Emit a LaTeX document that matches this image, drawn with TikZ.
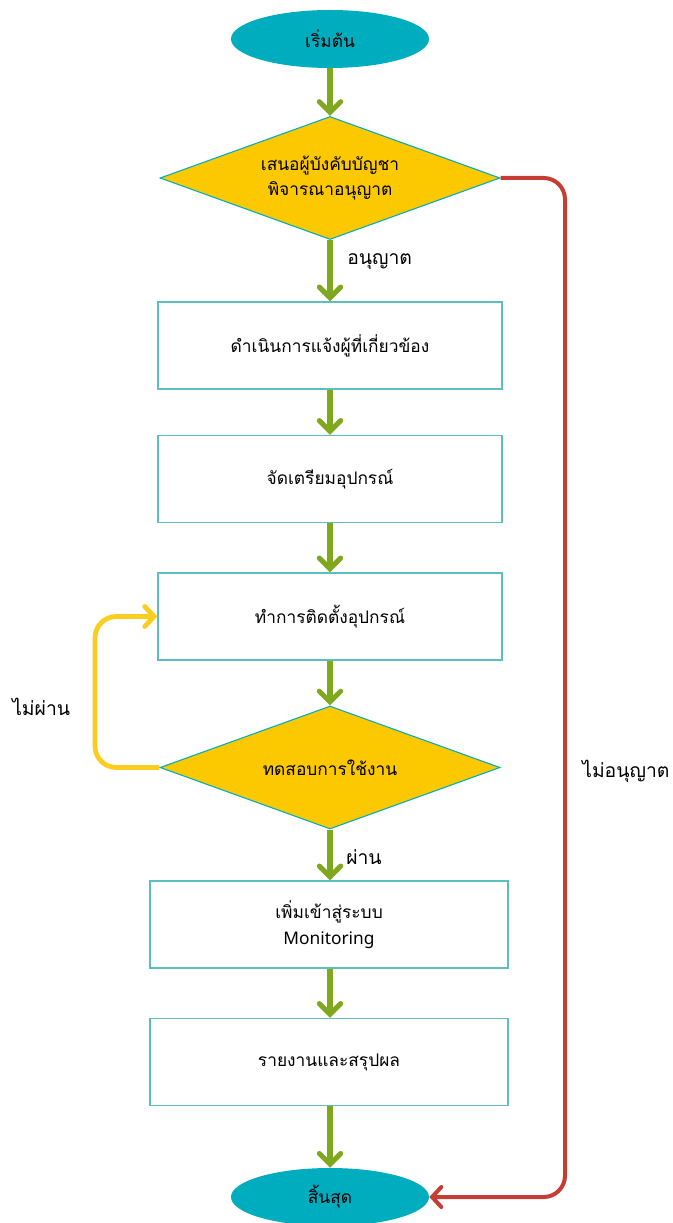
\documentclass[tikz,border=0pt]{standalone}
\usepackage{fontspec}
\setmainfont{Noto Sans}
\newfontfamily\thai[Script=Thai]{Loma}
\usetikzlibrary{shapes.geometric,arrows.meta}
\definecolor{termfill}{RGB}{0,173,190}
\definecolor{decfill}{RGB}{252,200,0}
\definecolor{boxline}{RGB}{92,190,192}
\definecolor{grn}{RGB}{128,168,30}
\definecolor{redl}{RGB}{196,62,52}
\definecolor{yel}{RGB}{250,205,30}
\tikzset{
  term/.style={ellipse, fill=termfill, minimum width=198*0.75pt, minimum height=58*0.75pt, inner sep=0pt, font=\thai\fontsize{13}{16}\selectfont},
  dec/.style={diamond, aspect=2.76, fill=decfill, draw=termfill, line width=0.8pt, minimum width=340*0.75pt, minimum height=123*0.75pt, inner sep=0pt, align=center, font=\thai\fontsize{13}{19}\selectfont},
  proc/.style={rectangle, draw=boxline, line width=1pt, fill=white, minimum width=344*0.75pt, minimum height=87*0.75pt, inner sep=0pt, align=center, font=\thai\fontsize{13}{19}\selectfont},
  procw/.style={proc, minimum width=358*0.75pt},
  flow/.style={draw=grn, line width=3.8pt, -{Straight Barb[length=8pt,width=16pt,line cap=round]}},
  noflow/.style={draw=redl, line width=3pt, rounded corners=16pt, -{Straight Barb[length=7pt,width=15pt,line cap=round]}},
  retry/.style={draw=yel, line width=3.6pt, rounded corners=16pt, -{Straight Barb[length=7pt,width=15pt,line cap=round]}},
  lbl/.style={font=\thai\fontsize{14.5}{17}\selectfont, inner sep=0pt, anchor=west}
}
\begin{document}
\begin{tikzpicture}[x=0.75pt,y=-0.75pt]
\useasboundingbox (0,0) rectangle (672,1223);
\node[term] (start) at (330,39) {เริ่มต้น};
\node[dec] (d1) at (330,178) {เสนอผู้บังคับบัญชา\\พิจารณาอนุญาต};
\node[proc] (p1) at (330,345.5) {ดำเนินการแจ้งผู้ที่เกี่ยวข้อง};
\node[proc] (p2) at (330,479) {จัดเตรียมอุปกรณ์};
\node[proc] (p3) at (330,616.5) {ทำการติดตั้งอุปกรณ์};
\node[dec] (d2) at (330,767.5) {ทดสอบการใช้งาน};
\node[procw] (p4) at (329,924.5) {เพิ่มเข้าสู่ระบบ\\{\fontspec{Noto Sans}Monitoring}};
\node[procw] (p5) at (329,1062) {รายงานและสรุปผล};
\node[term] (end) at (330,1197) {สิ้นสุด};
\coordinate (rr) at (565,700);
\coordinate (yy) at (95,700);
\draw[flow] (start) -- (d1);
\draw[flow] (d1) -- (p1);
\draw[flow] (p1) -- (p2);
\draw[flow] (p2) -- (p3);
\draw[flow] (p3) -- (d2);
\draw[flow] (d2) -- (p4.north -| d2.south);
\draw[flow] (p4.south -| d2.south) -- (p5.north -| d2.south);
\draw[flow] (p5.south -| d2.south) -- (end);
\draw[noflow] (d1.east) -| (rr) |- (end.east);
\draw[retry] (d2.west) -| (yy) |- (p3.west);
\node[lbl] (l1) at (347,262) {อนุญาต};
\node[lbl] (l2) at (346,857) {ผ่าน};
\node[lbl] (l3) at (12,707) {ไม่ผ่าน};
\node[lbl] (l4) at (582,771) {ไม่อนุญาต};
\end{tikzpicture}
\end{document}
